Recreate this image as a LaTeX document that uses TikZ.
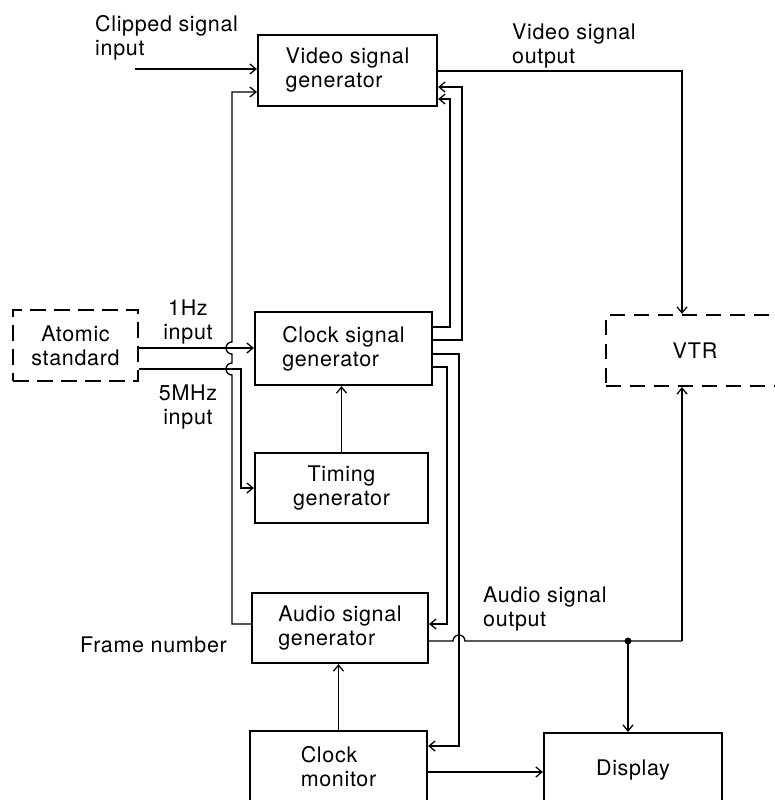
\documentclass[tikz,border=0pt]{standalone}
\usepackage{fontspec}
\setmainfont[LetterSpace=3]{TeX Gyre Heros}
\usetikzlibrary{arrows.meta}
\begin{document}
\begin{tikzpicture}[x=1pt,y=-1pt,
  font=\fontsize{21.5}{24}\selectfont,
  blk/.style={draw,line width=2.2pt,minimum height=71pt,align=left},
  dblk/.style={blk,dash pattern=on 16pt off 8pt},
  lbl/.style={inner sep=0pt,align=left},
  sig/.style={line width=1.3pt},
  arr/.style={sig,-{Straight Barb[length=6pt,width=10pt]}}]
  \useasboundingbox (0,0) rectangle (775,800);
  \clip (0,0) rectangle (775,800);
  % blocks
  \node[blk,minimum width=179pt] (vsg) at (347.5,70.5) {Video signal\\generator};
  \node[blk,minimum width=177pt,minimum height=73pt] (csg) at (343.5,348.5) {Clock signal\\generator};
  \node[dblk,minimum width=125pt,align=center] (ats) at (75.5,345.5) {Atomic\\standard};
  \node[blk,minimum width=173pt,minimum height=70pt,align=center] (tg) at (341.5,488) {Timing\\generator};
  \node[blk,minimum width=176pt,minimum height=70pt] (asg) at (340,628) {Audio signal\\generator};
  \node[blk,minimum width=177pt,minimum height=72pt] (cm) at (338.5,767) {Clock\\monitor};
  \node[blk,minimum width=178pt,minimum height=74pt] (disp) at (633,770) {Display};
  \node[dblk,minimum width=178pt,dash pattern=on 15pt off 9pt] (vtr) at (695,350.5) {VTR};
  % labels
  \node[lbl,anchor=north west] (lclip) at (95,15) {Clipped signal\\input};
  \node[lbl,anchor=north west] (lvout) at (512,24) {Video signal\\output};
  \node[lbl,anchor=north,align=center] (l1hz) at (188,300) {1Hz\\input};
  \node[lbl,anchor=north,align=center] (l5mhz) at (188,385) {5MHz\\input};
  \node[lbl,anchor=north west] (laout) at (483,587) {Audio signal\\output};
  \node[lbl,anchor=north west] (lfr) at (80,637) {Frame number};
  % bends
  \coordinate (clip) at (135,69); \coordinate (vo) at (682,71);
  \coordinate (hz) at (0,348); \coordinate (m5) at (241,369);
  \coordinate (fr) at (232,624); \coordinate (ft) at (232,92);
  \coordinate (a1) at (450,327); \coordinate (a1t) at (450,99);
  \coordinate (a2) at (462,340); \coordinate (a2t) at (462,87);
  \coordinate (b1) at (447,367); \coordinate (b1b) at (447,624);
  \coordinate (b2) at (459,354); \coordinate (b2b) at (459,746);
  \coordinate (ao) at (682,641); \coordinate (dot) at (628,641);
  \coordinate (cd) at (0,772);
  % connectors
  \draw[arr] (clip) -- (clip -| vsg.west);
  \draw[arr] (vsg.east |- vo) -- (vo) -- (vo |- vtr.north);
  \draw[arr] (ats.east |- hz) -- (csg.west |- hz);
  \draw[arr] (ats.east |- m5) -- (m5) -- (m5 |- tg.west) -- (tg.west);
  \draw[arr] (asg.west |- fr) -- (fr) -- (232,375) arc(90:270:6) -- (232,354) arc(90:270:6) -- (ft) -- (vsg.west |- ft);
  \draw[arr] (tg.north) -- (tg.north |- csg.south);
  \draw[arr] (cm.north) -- (cm.north |- asg.south);
  \draw[arr] (csg.east |- a1) -- (a1) -- (a1t) -- (vsg.east |- a1t);
  \draw[arr] (csg.east |- a2) -- (a2) -- (a2t) -- (vsg.east |- a2t);
  \draw[arr] (csg.east |- b1) -- (b1) -- (b1b) -- (asg.east |- b1b);
  \draw[arr] (csg.east |- b2) -- (b2) -- (b2b) -- (cm.east |- b2b);
  \draw[sig] (asg.east |- ao) -- (453,641) arc(180:360:6) -- (ao);
  \draw[arr] (ao) -- (ao |- vtr.south);
  \fill (dot) circle (3.5);
  \draw[arr] (dot) -- (dot |- disp.north);
  \draw[arr] (cm.east |- cd) -- (disp.west |- cd);
\end{tikzpicture}
\end{document}
